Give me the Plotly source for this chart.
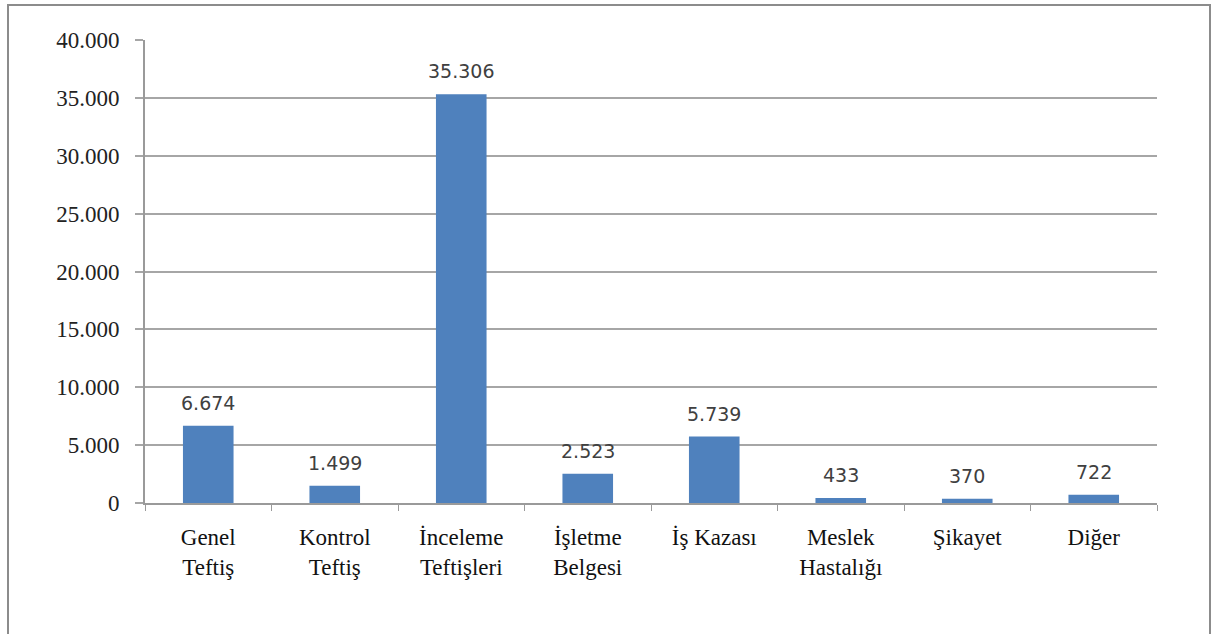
import plotly.graph_objects as go

categories = ["Genel<br>Teftiş", "Kontrol<br>Teftiş", "İnceleme<br>Teftişleri", "İşletme<br>Belgesi",
              "İş Kazası", "Meslek<br>Hastalığı", "Şikayet", "Diğer"]
values = [6674, 1499, 35306, 2523, 5739, 433, 370, 722]
tick_vals = [0, 5000, 10000, 15000, 20000, 25000, 30000, 35000, 40000]

W, H = 1212, 634
L, R, T, B = 145, 55, 40, 131
pw, ph = W - L - R, H - T - B

fig = go.Figure(go.Bar(
    x=categories, y=values, marker=dict(color="#4F81BD", line=dict(width=0)),
    width=0.4, hoverinfo="skip"))

for c, v in zip(categories, values):
    fig.add_annotation(x=c, y=v, text=f"{v:,}".replace(",", "."), showarrow=False,
                       yanchor="bottom", yshift=10,
                       font=dict(family="DejaVu Sans", size=19, color="#404040"))

def px_x(p):
    return (p - L) / pw

def px_y(p):
    return (H - B - p) / ph

fig.add_shape(type="rect", xref="paper", yref="paper",
              x0=px_x(8), x1=px_x(1210), y0=px_y(640), y1=px_y(5),
              line=dict(color="#8C8C8C", width=2), layer="below")

fig.update_layout(
    width=W, height=H, margin=dict(l=L, r=R, t=T, b=B),
    paper_bgcolor="white", plot_bgcolor="white",
    separators=",.", showlegend=False,
    xaxis=dict(type="category", showline=True, linecolor="#9A9A9A", linewidth=2,
               ticks="outside", tickson="boundaries", ticklen=6, tickcolor="#9A9A9A",
               tickfont=dict(family="Liberation Serif", size=23, color="#111"),
               ticklabelstandoff=12, showgrid=False),
    yaxis=dict(range=[0, 40000], tickvals=tick_vals, tickformat=",",
               showline=True, linecolor="#9A9A9A", linewidth=2,
               showgrid=True, gridcolor="#A6A6A6", gridwidth=2,
               ticks="outside", ticklen=8, tickcolor="#A6A6A6", tickwidth=2,
               tickfont=dict(family="Liberation Serif", size=23, color="#222"),
               ticklabelstandoff=11, zeroline=False),
)

fig.write_html("out.html", config={"displayModeBar": False},
               post_script="document.body.style.margin='0';document.body.style.overflow='hidden';")
